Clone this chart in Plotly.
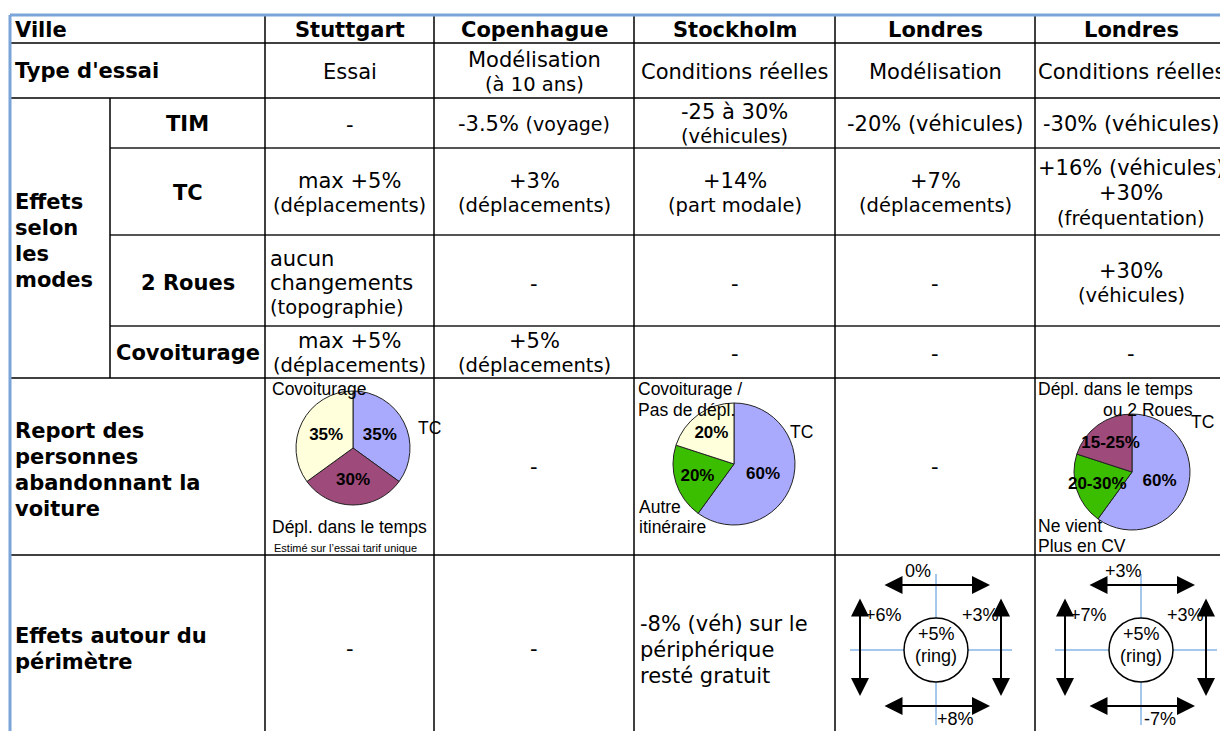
import plotly.graph_objects as go

W, H = 1228, 731
OFF = 8  # marge du <body> de la page html
FW, FH = W - OFF, H - OFF  # taille de la figure : elle remplit la fenêtre

# --- données du tableau ---
villes = ["Stuttgart", "Copenhague", "Stockholm", "Londres", "Londres"]
types_essai = [["Essai"], ["Modélisation", "(à 10 ans)"], ["Conditions réelles"],
               ["Modélisation"], ["Conditions réelles"]]
modes = ["TIM", "TC", "2 Roues", "Covoiturage"]
effets_tim = [["-"], ["-3.5% <span style='font-size:19px'>(voyage)</span>"],
              ["-25 à 30%", "(véhicules)"], ["-20% (véhicules)"], ["-30% (véhicules)"]]
effets_tc = [["max +5%", "(déplacements)"], ["+3%", "(déplacements)"],
             ["+14%", "(part modale)"], ["+7%", "(déplacements)"],
             ["+16% (véhicules)", "+30%", "(fréquentation)"]]
effets_2roues = [["aucun", "changements", "(topographie)"], ["-"], ["-"], ["-"],
                 ["+30%", "(véhicules)"]]
effets_covoit = [["max +5%", "(déplacements)"], ["+5%", "(déplacements)"], ["-"], ["-"], ["-"]]
perimetre_stockholm = ["-8% (véh) sur le", "périphérique", "resté gratuit"]

# report modal (camemberts)
pie_stuttgart_labels = ["TC", "Dépl. dans le temps", "Covoiturage"]
pie_stuttgart_values = [35, 30, 35]
pie_stuttgart_text = ["35%", "30%", "35%"]
pie_stockholm_labels = ["TC", "Autre itinéraire", "Covoiturage / Pas de dépl."]
pie_stockholm_values = [60, 20, 20]
pie_stockholm_text = ["60%", "20%", "20%"]
pie_londres_labels = ["TC", "Ne vient plus en CV", "Dépl. dans le temps ou 2 Roues"]
pie_londres_values = [60, 20, 20]
pie_londres_text = ["60%", "20-30%", "15-25%"]

# effets autour du périmètre : nord, ouest, est, sud, ring
perim_londres_mod = ["0%", "+6%", "+3%", "+8%", "+5%"]
perim_londres_reel = ["+3%", "+7%", "+3%", "-7%", "+5%"]

BLUE, MAUVE, IVORY, GREEN = "#A9AAFE", "#9E4A7A", "#FFFFDB", "#3CBE00"

# grille
cols = [10, 265, 434, 634, 835, 1035, W]
sub_col = 110
rows = [15, 43, 98, 148, 235, 326, 378, 555, H]
centres = [(cols[i] + cols[i + 1]) / 2 for i in range(1, 5)] + [1131]

fig = go.Figure()
shapes, annots = [], []


def line(x0, y0, x1, y1, color="black", width=1.5):
    shapes.append(dict(type="line", xref="x", yref="y", x0=x0, y0=y0, x1=x1, y1=y1,
                       line=dict(color=color, width=width)))


def txt(x, y, s, size=21, bold=False, anchor="center", family="DejaVu Sans"):
    annots.append(dict(x=x, y=y, xref="x", yref="y", text=s, showarrow=False,
                       xanchor=anchor, yanchor="middle",
                       font=dict(family=family, size=size, color="black",
                                 weight="bold" if bold else "normal")))


def cell(x, yc, lines, anchor="center", gap=24.5):
    n = len(lines)
    for k, s in enumerate(lines):
        size = 19.5 if s.startswith("(") else 21
        txt(x, yc + (k - (n - 1) / 2) * gap, s, size=size, anchor=anchor)


# lignes horizontales
for y in [43, 98, 378, 555]:
    line(cols[0], y, W, y)
for y in [148, 235, 326]:
    line(sub_col, y, W, y, color="#555", width=2)
# lignes verticales
for x in cols[1:-1]:
    line(x, rows[0], x, H)
line(sub_col, 98, sub_col, 378)
# bordure bleue
line(cols[0], rows[0], W, rows[0], color="#7BA4D8", width=3)
line(cols[0], rows[0], cols[0], H, color="#7BA4D8", width=3)

# en-têtes
txt(13, 30, "Ville", bold=True, anchor="left")
for c, v in zip(centres, villes):
    txt(c, 30, v, bold=True)
txt(13, 71, "Type d'essai", bold=True, anchor="left")
for c, t in zip(centres, types_essai):
    cell(c, 72, t)

# effets selon les modes
for k, s in enumerate(["Effets", "selon", "les", "modes"]):
    txt(13, 202 + k * 26, s, bold=True, anchor="left")
mode_y = [124, 193, 283, 353]
for m, yc in zip(modes, mode_y):
    txt((sub_col + cols[1]) / 2, yc, m, bold=True)
for yc, vals in zip(mode_y, [effets_tim, effets_tc, effets_2roues, effets_covoit]):
    for i, (c, v) in enumerate(zip(centres, vals)):
        if len(v) == 3 and i < 4:
            cell(cols[1] + 3, yc, v, anchor="left")
        else:
            cell(c, yc + (1 if v == ["-"] else 0), v, gap=25.5 if len(v) == 3 else 24.5)

# report des personnes abandonnant la voiture
for k, s in enumerate(["Report des", "personnes", "abandonnant la", "voiture"]):
    txt(13, 431 + k * 26, s, bold=True, anchor="left")
for i in [1, 3]:
    cell(centres[i], 467, ["-"])


def dom(cx, cy, r):
    return dict(x=[(cx - r - OFF) / FW, (cx + r - OFF) / FW],
                y=[1 - (cy + r - OFF) / FH, 1 - (cy - r - OFF) / FH])


def pie(labels, values, text, colors, cx, cy, r):
    fig.add_trace(go.Pie(labels=labels, values=values, text=text, textinfo="text",
                         sort=False, direction="clockwise", rotation=0,
                         textposition="inside", insidetextorientation="horizontal",
                         textfont=dict(family="Liberation Sans", size=17, color="black",
                                       weight="bold"),
                         marker=dict(colors=colors, line=dict(color="#222", width=1)),
                         domain=dom(cx, cy, r), showlegend=False, hoverinfo="skip"))


pie(pie_stuttgart_labels, pie_stuttgart_values, pie_stuttgart_text,
    [BLUE, MAUVE, IVORY], 353, 448, 57)
pie(pie_stockholm_labels, pie_stockholm_values, pie_stockholm_text,
    [BLUE, GREEN, IVORY], 734, 464, 61)
pie(pie_londres_labels, pie_londres_values, pie_londres_text,
    [BLUE, GREEN, MAUVE], 1132, 472, 58)

AR = "Liberation Sans"
txt(270, 389, "Covoiturage", size=17.5, anchor="left", family=AR)
txt(416, 428, "TC", size=17.5, anchor="left", family=AR)
txt(270, 527, "Dépl. dans le temps", size=17.5, anchor="left", family=AR)
txt(272, 548, "Estimé sur l’essai tarif unique", size=11, anchor="left", family=AR)
txt(636, 389, "Covoiturage /", size=17.5, anchor="left", family=AR)
txt(636, 410, "Pas de dépl.", size=17.5, anchor="left", family=AR)
txt(788, 432, "TC", size=17.5, anchor="left", family=AR)
txt(637, 507, "Autre", size=17.5, anchor="left", family=AR)
txt(637, 527, "itinéraire", size=17.5, anchor="left", family=AR)
txt(1036, 389, "Dépl. dans le temps", size=17.5, anchor="left", family=AR)
txt(1101, 410, "ou 2 Roues", size=17.5, anchor="left", family=AR)
txt(1189, 422, "TC", size=17.5, anchor="left", family=AR)
txt(1036, 526, "Ne vient", size=17.5, anchor="left", family=AR)
txt(1036, 546, "Plus en CV", size=17.5, anchor="left", family=AR)

# effets autour du périmètre
txt(13, 636, "Effets autour du", bold=True, anchor="left")
txt(13, 662, "périmètre", bold=True, anchor="left")
cell(centres[0], 649, ["-"])
cell(centres[1], 649, ["-"])
for k, s in enumerate(perimetre_stockholm):
    txt(638, 624 + k * 26, s, anchor="left")


def arrow(x0, y0, x1, y1):
    annots.append(dict(x=x1, y=y1, ax=x0, ay=y0, xref="x", yref="y", axref="x", ayref="y",
                       text="", showarrow=True, arrowhead=2, arrowside="end+start",
                       arrowwidth=2, arrowsize=1.8, arrowcolor="black",
                       standoff=0, startstandoff=0))


def perimetre(cx, cy, labels):
    r = 32
    bl = "#4A90D9"
    line(cx, cy - 76, cx, cy - r, color=bl, width=1)
    line(cx, cy + r, cx, cy + 75, color=bl, width=1)
    line(cx - 86, cy, cx - r, cy, color=bl, width=1)
    line(cx + r, cy, cx + 76, cy, color=bl, width=1)
    shapes.append(dict(type="circle", xref="x", yref="y", x0=cx - r, x1=cx + r,
                       y0=cy - r, y1=cy + r, line=dict(color="black", width=1.5),
                       fillcolor="white"))
    arrow(cx - 53, cy - 65, cx + 54, cy - 65)
    arrow(cx - 53, cy + 56, cx + 54, cy + 56)
    arrow(cx - 76, cy - 53, cx - 76, cy + 46)
    arrow(cx + 65, cy - 53, cx + 65, cy + 46)
    n, w, e, s, ring = labels
    txt(cx - 18, cy - 79, n, size=18, family=AR)
    txt(cx - 53, cy - 35, w, size=18, family=AR)
    txt(cx + 44, cy - 35, e, size=18, family=AR)
    txt(cx + 19, cy + 69, s, size=18, family=AR)
    txt(cx, cy - 16, ring, size=18, family=AR)
    txt(cx, cy + 6, "(ring)", size=18, family=AR)


perimetre(936, 650, perim_londres_mod)
perimetre(1141, 650, perim_londres_reel)

fig.update_layout(width=FW, height=FH, margin=dict(l=0, r=0, t=0, b=0),
                  paper_bgcolor="white", plot_bgcolor="white",
                  shapes=shapes, annotations=annots,
                  uniformtext=dict(minsize=17, mode="show"),
                  xaxis=dict(range=[OFF, W], visible=False, fixedrange=True),
                  yaxis=dict(range=[H, OFF], visible=False, fixedrange=True))
# pas de barres de défilement dans la page
fig.write_html("out.html", post_script=(
    "document.documentElement.style.overflow='hidden';"
    "document.body.style.overflow='hidden';"))
